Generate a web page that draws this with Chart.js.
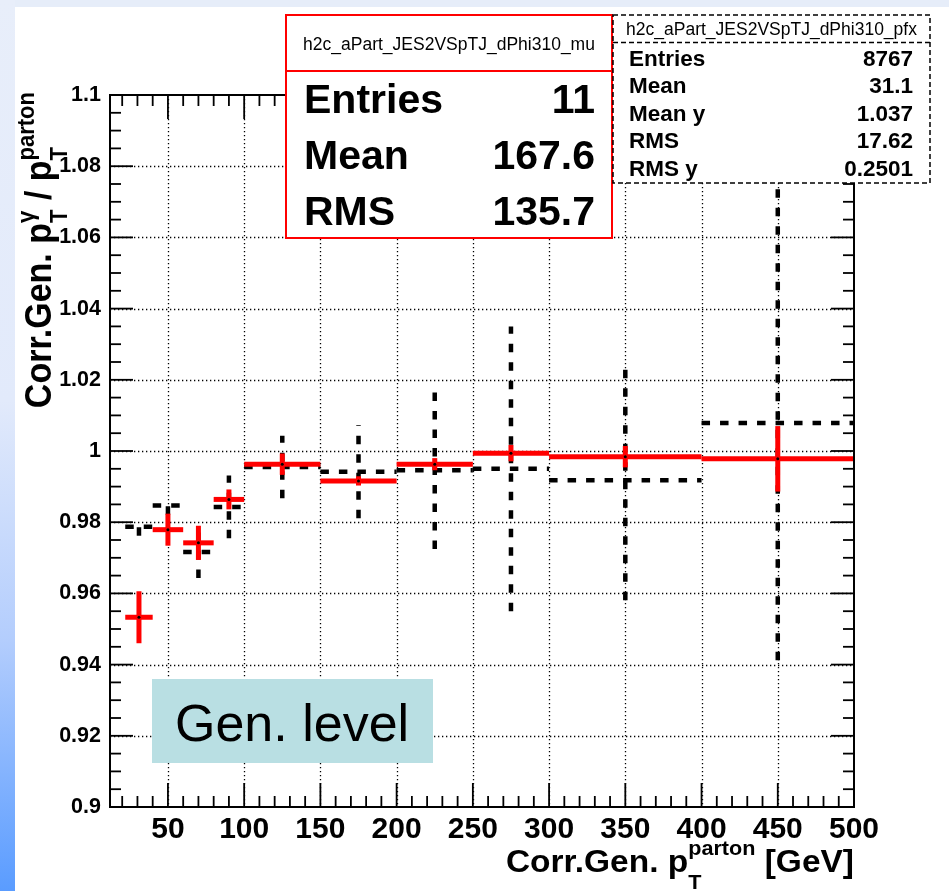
<!DOCTYPE html>
<html>
<head>
<meta charset="utf-8">
<script src="https://cdn.jsdelivr.net/npm/chart.js@4.4.1/dist/chart.umd.min.js"></script>
<style>
    html, body { margin: 0; padding: 0; background: #fff; }
    canvas { display: block; }
</style>
</head>
<body>
<canvas id="jes-chart" width="949" height="891"></canvas>
<script>
// bins of the response profile (GeV)
const binLow = [22, 40, 60, 80, 100, 150, 200, 250, 300, 400]
const binHigh = [40, 60, 80, 100, 150, 200, 250, 300, 400, 500]

// gaussian-fit means (red) and profile means (black dashed)
const muValues = [0.9533, 0.9779, 0.9742, 0.9864, 0.9963, 0.9916, 0.9963, 0.9994, 0.9984, 0.9978]
const muErrors = [0.0073, 0.0045, 0.0048, 0.0028, 0.0030, 0.0013, 0.0017, 0.0023, 0.0030, 0.0092]
const pfxValues = [0.9787, 0.9847, 0.9716, 0.9843, 0.9955, 0.9942, 0.9946, 0.9950, 0.9918, 1.0079]
const pfxErrors = [0.0025, 0.0026, 0.0073, 0.0088, 0.0088, 0.0131, 0.0221, 0.0400, 0.0337, 0.0667]

const xTickLabels = [50, 100, 150, 200, 250, 300, 350, 400, 450, 500]
const yTickLabels = [0.9, 0.92, 0.94, 0.96, 0.98, 1, 1.02, 1.04, 1.06, 1.08, 1.1]

const muStats = [['Entries', '11'], ['Mean', '167.6'], ['RMS', '135.7']]
const pfxStats = [['Entries', '8767'], ['Mean', '31.1'], ['Mean y', '1.037'], ['RMS', '17.62'], ['RMS y', '0.2501']]

const FONT = '"Liberation Sans", Arial, Helvetica, sans-serif'

function binCenter(i) {
    return (binLow[i] + binHigh[i]) / 2
}

function line(ctx, x1, y1, x2, y2) {
    ctx.beginPath()
    ctx.moveTo(x1, y1)
    ctx.lineTo(x2, y2)
    ctx.stroke()
}

function drawErrors(ctx, xs, ys, values, errors, color, width, dash) {
    ctx.save()
    ctx.strokeStyle = color
    ctx.lineWidth = width
    ctx.lineCap = 'butt'
    ctx.setLineDash(dash)
    values.forEach((v, i) => {
        let y = ys.getPixelForValue(v)
        line(ctx, xs.getPixelForValue(binLow[i]), y, xs.getPixelForValue(binHigh[i]), y)
        let x = xs.getPixelForValue(binCenter(i))
        line(ctx, x, ys.getPixelForValue(v - errors[i]), x, ys.getPixelForValue(v + errors[i]))
    })
    ctx.restore()
}

// text made of runs; a run is either plain text or a stacked sub/superscript
function drawRuns(ctx, runs) {
    let x = 0
    runs.forEach(run => {
        ctx.font = 'bold ' + run.size + 'px ' + FONT
        if (run.text !== undefined) {
            ctx.fillText(run.text, x, 0)
            x += ctx.measureText(run.text).width
        } else {
            ctx.fillText(run.sub, x, run.subDy)
            ctx.fillText(run.sup, x, run.supDy)
            x += Math.max(ctx.measureText(run.sub).width, ctx.measureText(run.sup).width)
        }
    })
    return x
}

function runsWidth(ctx, runs) {
    ctx.save()
    ctx.globalAlpha = 0
    let w = drawRuns(ctx, runs)
    ctx.restore()
    return w
}

const xTitle = [
    { text: 'Corr.Gen. p', size: 31 },
    { sub: 'T', sup: 'parton', size: 20, subDy: 17, supDy: -17 },
    { text: ' [GeV]', size: 31 }
]
const yTitle = [
    { text: 'Corr.Gen. p', size: 34 },
    { sub: 'T', sup: 'γ', size: 22, subDy: 15, supDy: -16 },
    { text: ' / p', size: 34 },
    { sub: 'T', sup: 'parton', size: 22, subDy: 15, supDy: -16 }
]

function statBox(ctx, box) {
    ctx.save()
    ctx.fillStyle = '#fff'
    ctx.fillRect(box.x, box.y, box.w, box.h)
    ctx.strokeStyle = box.color
    ctx.lineWidth = box.lineWidth
    ctx.setLineDash(box.dash)
    ctx.strokeRect(box.x, box.y, box.w, box.h)
    line(ctx, box.x, box.sep, box.x + box.w, box.sep)
    ctx.setLineDash([])
    ctx.fillStyle = '#000'
    ctx.font = box.titleSize + 'px ' + FONT
    ctx.textAlign = 'center'
    ctx.fillText(box.title, box.x + box.w / 2, box.titleY)
    ctx.font = 'bold ' + box.rowSize + 'px ' + FONT
    box.rows.forEach((row, i) => {
        let y = box.rowY + i * box.rowStep
        ctx.textAlign = 'left'
        ctx.fillText(row[0], box.labelX, y)
        ctx.textAlign = 'right'
        ctx.fillText(row[1], box.valueX, y)
    })
    ctx.restore()
}

const rootStyle = {
    id: 'rootStyle',
    beforeDraw(chart) {
        let ctx = chart.ctx
        let g = ctx.createLinearGradient(0, 0, 0, chart.height)
        g.addColorStop(0, '#e8eefa')
        g.addColorStop(0.45, '#e2eafb')
        g.addColorStop(0.72, '#b3cdfd')
        g.addColorStop(1, '#5a9cff')
        ctx.save()
        ctx.fillStyle = g
        ctx.fillRect(0, 0, chart.width, chart.height)
        ctx.fillStyle = '#e6edf9'
        ctx.fillRect(15, 0, chart.width - 15, 7)
        ctx.fillStyle = '#fff'
        ctx.fillRect(15, 7, chart.width - 15, chart.height - 7)
        ctx.restore()
    },
    beforeDatasetsDraw(chart) {
        let ctx = chart.ctx
        let a = chart.chartArea
        let xs = chart.scales.x
        let ys = chart.scales.y

        // dotted grid
        ctx.save()
        ctx.strokeStyle = '#000'
        ctx.lineWidth = 1.3
        ctx.setLineDash([1.3, 2.7])
        xTickLabels.slice(0, -1).forEach(v => {
            let x = Math.round(xs.getPixelForValue(v)) + 0.5
            line(ctx, x, a.top, x, a.bottom)
        })
        yTickLabels.slice(1, -1).forEach(v => {
            let y = Math.round(ys.getPixelForValue(v)) + 0.5
            line(ctx, a.left, y, a.right, y)
        })
        ctx.restore()

        drawErrors(ctx, xs, ys, pfxValues, pfxErrors, '#000', 4.5, [8.5, 10])
        drawErrors(ctx, xs, ys, muValues, muErrors, '#ff0000', 5, [])
    },
    afterDraw(chart) {
        let ctx = chart.ctx
        let a = chart.chartArea
        let xs = chart.scales.x
        let ys = chart.scales.y

        // frame with inward ticks on all four sides
        ctx.save()
        ctx.strokeStyle = '#000'
        ctx.lineWidth = 2
        ctx.strokeRect(a.left, a.top, a.right - a.left, a.bottom - a.top)
        ctx.lineWidth = 1.8
        for (let v = 20; v < 500; v += 10) {
            let x = xs.getPixelForValue(v)
            let len = v % 50 === 0 ? 24 : 11
            line(ctx, x, a.bottom, x, a.bottom - len)
            line(ctx, x, a.top, x, a.top + len)
        }
        for (let i = 1; i < 40; i++) {
            let y = ys.getPixelForValue(0.9 + i * 0.005)
            let len = i % 4 === 0 ? 23 : 11
            line(ctx, a.left, y, a.left + len, y)
            line(ctx, a.right, y, a.right - len, y)
        }
        ctx.restore()

        // level label
        ctx.save()
        ctx.fillStyle = '#b9dfe3'
        ctx.fillRect(152, 679, 281, 84)
        ctx.fillStyle = '#000'
        ctx.font = '52px ' + FONT
        ctx.fillText('Gen. level', 175, 741)
        ctx.restore()

        statBox(ctx, {
            x: 286, y: 15, w: 326, h: 223, sep: 71, color: '#ff0000', lineWidth: 2, dash: [],
            title: 'h2c_aPart_JES2VSpTJ_dPhi310_mu', titleSize: 17.5, titleY: 49.5,
            rows: muStats, rowSize: 41, rowY: 113, rowStep: 56, labelX: 304, valueX: 595
        })
        statBox(ctx, {
            x: 613, y: 15, w: 317, h: 168, sep: 42.5, color: '#000', lineWidth: 1.5, dash: [5, 3],
            title: 'h2c_aPart_JES2VSpTJ_dPhi310_pfx', titleSize: 17.5, titleY: 35,
            rows: pfxStats, rowSize: 22.5, rowY: 66, rowStep: 27.4, labelX: 629, valueX: 913
        })

        // axis titles, right-aligned to the axis ends
        ctx.save()
        ctx.fillStyle = '#000'
        ctx.textAlign = 'left'
        let sx = 1.08
        let w = runsWidth(ctx, xTitle) * sx
        ctx.translate(a.right - w, 872)
        ctx.scale(sx, 1)
        drawRuns(ctx, xTitle)
        ctx.restore()

        ctx.save()
        ctx.fillStyle = '#000'
        ctx.textAlign = 'left'
        let wy = runsWidth(ctx, yTitle)
        ctx.translate(51, a.top - 3 + wy)
        ctx.rotate(-Math.PI / 2)
        ctx.scale(1, 1.08)
        drawRuns(ctx, yTitle)
        ctx.restore()
    }
}

let chartElement = document.getElementById('jes-chart').getContext('2d')

let jesChart = new Chart(chartElement, {
    type: 'scatter',
    data: {
        datasets: [
            {
                label: 'h2c_aPart_JES2VSpTJ_dPhi310_pfx',
                data: pfxValues.map((v, i) => ({ x: binCenter(i), y: v })),
                pointRadius: 0
            },
            {
                label: 'h2c_aPart_JES2VSpTJ_dPhi310_mu',
                data: muValues.map((v, i) => ({ x: binCenter(i), y: v })),
                pointRadius: 1.5,
                pointBorderWidth: 0,
                pointBackgroundColor: '#000'
            }
        ]
    },
    options: {
        responsive: false,
        animation: false,
        devicePixelRatio: 1,
        layout: { padding: { left: 0, top: 95, right: 95, bottom: 0 } },
        plugins: { legend: { display: false }, tooltip: { enabled: false } },
        scales: {
            x: {
                type: 'linear',
                min: 12,
                max: 500,
                grid: { display: false },
                border: { display: false },
                afterBuildTicks: axis => { axis.ticks = xTickLabels.map(v => ({ value: v })) },
                afterFit: axis => { axis.height = 84 },
                ticks: {
                    color: '#000',
                    padding: -3,
                    autoSkip: false,
                    maxRotation: 0,
                    font: { family: FONT, size: 30, weight: 'bold' }
                }
            },
            y: {
                type: 'linear',
                min: 0.9,
                max: 1.1,
                grid: { display: false },
                border: { display: false },
                afterBuildTicks: axis => { axis.ticks = yTickLabels.map(v => ({ value: v })) },
                afterFit: axis => { axis.width = 110 },
                ticks: {
                    color: '#000',
                    padding: 1,
                    autoSkip: false,
                    font: { family: FONT, size: 21.5, weight: 'bold' },
                    callback: v => String(+v.toFixed(2))
                }
            }
        }
    },
    plugins: [rootStyle]
})
</script>
</body>
</html>
